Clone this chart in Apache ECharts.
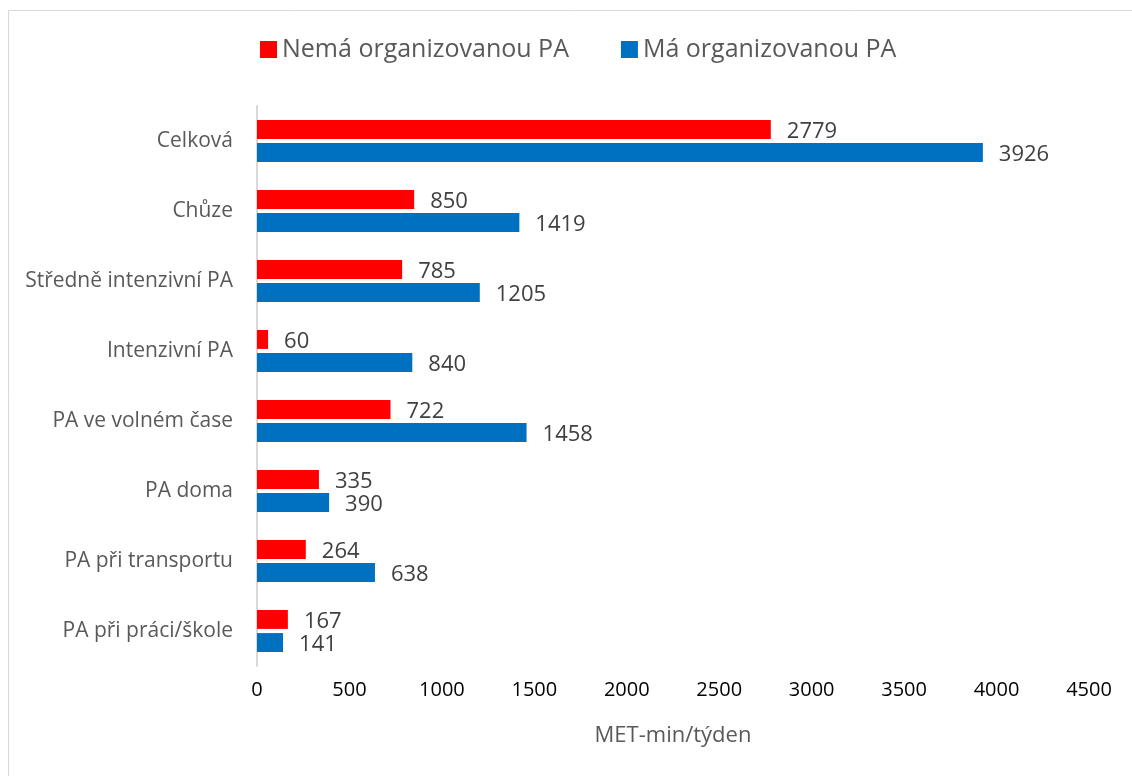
<!DOCTYPE html>
<html>
<head>
<meta charset="utf-8">
<script src="https://cdn.jsdelivr.net/npm/echarts@6/dist/echarts.min.js"></script>
<style>
  html, body { margin: 0; padding: 0; background: #fff; }
  #main { width: 1132px; height: 776px; }
</style>
</head>
<body>
<div id="main"></div>
<script>
var categories = ['Celková', 'Chůze', 'Středně intenzivní PA', 'Intenzivní PA',
    'PA ve volném čase', 'PA doma', 'PA při transportu', 'PA při práci/škole'];
var nemaValues = [2779, 850, 785, 60, 722, 335, 264, 167];
var maValues = [3926, 1419, 1205, 840, 1458, 390, 638, 141];
var seriesNames = ['Nemá organizovanou PA', 'Má organizovanou PA'];
var axisName = 'MET-min/týden';

var font = '"Open Sans", sans-serif';
var myChart = echarts.init(document.getElementById('main'));

var labelStyle = {
    show: true,
    position: 'right',
    distance: 16,
    offset: [0, 2],
    fontFamily: font,
    fontSize: 22,
    color: '#404040'
};

var option = {
    animation: false,
    backgroundColor: '#fff',
    graphic: [{
        type: 'rect',
        shape: { x: 8.5, y: 10.5, width: 1140, height: 800 },
        style: { fill: 'none', stroke: '#d9d9d9', lineWidth: 1 }
    }],
    legend: {
        top: 32,
        left: 255,
        itemWidth: 17,
        itemHeight: 17,
        itemGap: 52,
        icon: 'rect',
        textStyle: { fontFamily: font, fontSize: 25, color: '#595959' },
        data: seriesNames
    },
    grid: {
        left: 257,
        right: 43,
        top: 106,
        bottom: 110,
        containLabel: false
    },
    xAxis: {
        type: 'value',
        min: 0,
        max: 4500,
        interval: 500,
        name: axisName,
        nameLocation: 'middle',
        nameGap: 59,
        nameTextStyle: { fontFamily: font, fontSize: 22, color: '#595959', verticalAlign: 'top' },
        axisLine: { show: false },
        axisTick: { show: false },
        splitLine: { show: false },
        axisLabel: {
            fontFamily: font, fontSize: 20, color: '#000', margin: 14,
            formatter: function (v) { return String(v); }
        }
    },
    yAxis: {
        type: 'category',
        data: categories,
        inverse: true,
        axisLine: { show: true, lineStyle: { color: '#d9d9d9', width: 2 } },
        axisTick: { show: false },
        axisLabel: { fontFamily: font, fontSize: 21, color: '#595959', margin: 24 }
    },
    series: [{
        name: seriesNames[0],
        type: 'bar',
        data: nemaValues,
        itemStyle: { color: '#ff0000' },
        barGap: '22%',
        barCategoryGap: '40%',
        label: labelStyle
    }, {
        name: seriesNames[1],
        type: 'bar',
        data: maValues,
        itemStyle: { color: '#0070c0' },
        barGap: '22%',
        barCategoryGap: '40%',
        label: labelStyle
    }]
};
myChart.setOption(option);
</script>
</body>
</html>
